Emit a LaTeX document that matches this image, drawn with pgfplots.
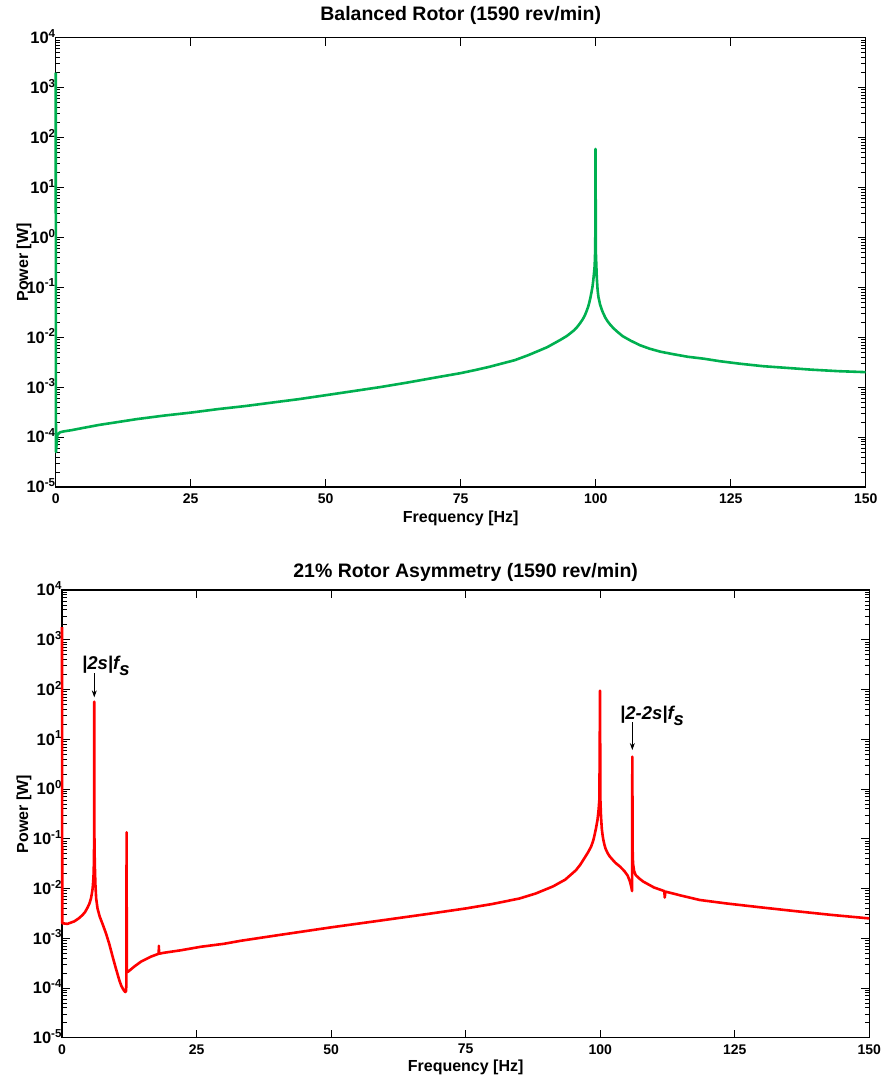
\documentclass[border=0pt]{standalone}
\usepackage{pgfplots}
\pgfplotsset{compat=1.18}
\usepackage{fontspec}
\setmainfont{Liberation Sans}
\usetikzlibrary{arrows.meta}
\definecolor{mygreen}{RGB}{0,176,80}

\pgfplotstableread{
f v
0 2000
0.05 5e-5
0.3 1.1e-4
0.8 1.25e-4
1.5 1.3e-4
3 1.38e-4
5 1.52e-4
8 1.75e-4
11.5 2.0e-4
15 2.29e-4
20 2.69e-4
25 3.09e-4
30 3.63e-4
35 4.17e-4
40 4.9e-4
45 5.75e-4
50 6.9e-4
55 8.3e-4
60 1.0e-3
65 1.23e-3
71.2 1.62e-3
75 1.91e-3
78 2.24e-3
80.4 2.57e-3
82.5 2.95e-3
85 3.47e-3
87.5 4.37e-3
89.7 5.5e-3
91 6.31e-3
92 7.24e-3
93.5 8.91e-3
94.6 1.05e-2
95.3 1.20e-2
96 1.38e-2
96.6 1.62e-2
97.1 1.91e-2
97.6 2.29e-2
98 2.75e-2
98.3 3.31e-2
98.6 4.07e-2
98.8 4.90e-2
99 6.03e-2
99.2 7.76e-2
99.4 0.102
99.55 0.138
99.7 0.200
99.8 0.263
99.85 0.355
99.92 0.631
99.97 59
100.03 0.501
100.08 0.355
100.2 0.158
100.35 0.0891
100.5 0.0646
100.8 0.0457
101.1 0.0363
101.4 0.0302
101.8 0.0245
102.2 0.0209
102.7 0.0178
103.3 0.0151
104 0.0129
105 0.0105
106.5 0.00851
108.2 0.00692
110 0.00589
112 0.00513
114.4 0.00457
117 0.00407
120 0.00372
123 0.00331
126.7 0.00295
131 0.00263
135 0.00245
140 0.00224
145 0.00209
150 0.00200
}\balanced

\pgfplotstableread{
f v
0 1800
0.05 2.0e-3
0.18 2.0e-3
1.0 1.95e-3
2.28 2.19e-3
3.1 2.51e-3
3.83 2.95e-3
4.3 3.39e-3
4.76 4.17e-3
5.1 5.01e-3
5.38 6.31e-3
5.55 7.94e-3
5.69 0.0100
5.8 0.0141
5.88 0.0200
5.94 0.0398
5.98 0.126
6.0 57
6.02 0.126
6.06 0.050
6.12 0.0251
6.2 0.0126
6.35 6.31e-3
6.6 3.98e-3
7.0 2.75e-3
7.6 1.86e-3
8.17 1.26e-3
8.8 7.59e-4
9.41 4.27e-4
10.0 2.51e-4
10.64 1.45e-4
11.0 1.12e-4
11.45 9.12e-5
11.75 8.32e-5
11.9 8.71e-5
11.97 1.26e-4
12.0 0.135
12.04 2.09e-4
12.3 2.14e-4
13.4 2.69e-4
14.67 3.39e-4
16.5 4.27e-4
17.97 4.9e-4
18.0 7.08e-4
18.03 4.9e-4
19.0 5.13e-4
22.1 5.75e-4
25.8 6.76e-4
30.1 7.76e-4
33.2 8.91e-4
40 1.15e-3
50 1.66e-3
60 2.34e-3
68 3.09e-3
75 3.98e-3
80 4.90e-3
85 6.31e-3
88 7.94e-3
91.2 0.0110
93.5 0.0151
95.5 0.0234
96.3 0.0302
97 0.0398
97.7 0.0525
98.3 0.0692
98.7 0.0912
99.0 0.125
99.25 0.17
99.5 0.240
99.7 0.38
99.85 0.631
99.97 95
100.03 0.631
100.15 0.282
100.3 0.158
100.45 0.117
100.6 0.0933
100.8 0.075
101.0 0.0631
101.4 0.051
101.8 0.0437
102.8 0.0331
103.7 0.0275
104.5 0.0224
105.1 0.0182
105.5 0.0141
105.8 0.0105
105.92 8.9e-3
105.97 4.47
106.02 0.063
106.1 0.0316
106.3 0.0224
106.6 0.0186
107.3 0.0158
108 0.0138
110 0.0105
111.9 8.9e-3
112.0 6.6e-3
112.1 8.7e-3
115 7.24e-3
118.5 5.89e-3
123.5 5.01e-3
130 4.17e-3
135.9 3.55e-3
143 2.95e-3
150 2.51e-3
}\asym

\pgfplotsset{
 every axis/.append style={
  scale only axis, xmin=0, xmax=150, ymin=1e-5, ymax=1e4,
  clip=false,
  axis line style={line width=1.3pt},
  every tick/.style={black, line width=0.9pt},
  major tick length=8pt, minor tick length=4.5pt,
  tick align=inside, xtick pos=both, ytick pos=both,
  xtick={0,25,50,75,100,125,150},
  xticklabels={0,25,50,75,100,125,150},
  ytick={1e-5,1e-4,1e-3,1e-2,1e-1,1e0,1e1,1e2,1e3,1e4},
  yticklabels={10\textsuperscript{-5},10\textsuperscript{-4},10\textsuperscript{-3},10\textsuperscript{-2},10\textsuperscript{-1},10\textsuperscript{0},10\textsuperscript{1},10\textsuperscript{2},10\textsuperscript{3},10\textsuperscript{4}},
  minor ytick={2e-5,3e-5,4e-5,5e-5,6e-5,7e-5,8e-5,9e-5,
   2e-4,3e-4,4e-4,5e-4,6e-4,7e-4,8e-4,9e-4,
   2e-3,3e-3,4e-3,5e-3,6e-3,7e-3,8e-3,9e-3,
   2e-2,3e-2,4e-2,5e-2,6e-2,7e-2,8e-2,9e-2,
   2e-1,3e-1,4e-1,5e-1,6e-1,7e-1,8e-1,9e-1,
   2,3,4,5,6,7,8,9,20,30,40,50,60,70,80,90,
   200,300,400,500,600,700,800,900,2000,3000,4000,5000,6000,7000,8000,9000},
  xticklabel style={font=\fontsize{14}{14}\selectfont\bfseries, yshift=-3pt},
  yticklabel style={font=\fontsize{16.5}{16.5}\selectfont\bfseries, anchor=base east, xshift=3.5pt, yshift=-5.9pt},
  title style={font=\fontsize{19.5}{19.5}\selectfont\bfseries, at={(0.5,1)}, anchor=base},
  xlabel style={font=\fontsize{16}{16}\selectfont\bfseries, at={(0.5,0)}, anchor=base, yshift=-35pt},
  ylabel style={font=\fontsize{16}{16}\selectfont\bfseries, at={(0,0.5)}, anchor=base},
  xlabel={Frequency [Hz]}, ylabel={Power [W]},
 }
}

\begin{document}
\begin{tikzpicture}
\begin{semilogyaxis}[at={(55.7pt,-37.7pt)}, anchor=north west,
  width=810pt, height=449.3pt,
  title={Balanced Rotor (1590 rev/min)}, title style={yshift=11pt},
  ylabel style={yshift=27.7pt}]
\addplot[mygreen, line width=2.6pt, line join=round] table[x=f,y=v] {\balanced};
\end{semilogyaxis}

\begin{semilogyaxis}[at={(62pt,-590pt)}, anchor=north west,
  width=807.3pt, height=447.8pt,
  title={21\% Rotor Asymmetry (1590 rev/min)}, title style={yshift=7pt},
  ylabel style={yshift=34pt}, xlabel style={yshift=1.5pt}]
\addplot[red, line width=2.6pt, line join=round] table[x=f,y=v] {\asym};
\node[anchor=base west, font=\fontsize{18.5}{18.5}\selectfont\bfseries\itshape, inner sep=0pt] at (axis cs:3.72,258) {|2s|f\raisebox{-6pt}{s}};
\draw[line width=0.8pt, -{Stealth[length=7pt,width=5pt]}] (axis cs:6,214) -- (axis cs:6,69.7);
\node[anchor=base west, font=\fontsize{18.5}{18.5}\selectfont\bfseries\itshape, inner sep=0pt] at (axis cs:103.68,25.1) {|2-2s|f\raisebox{-6pt}{s}};
\draw[line width=0.8pt, -{Stealth[length=7pt,width=5pt]}] (axis cs:105.97,22.2) -- (axis cs:105.97,6.08);
\end{semilogyaxis}
\pgfresetboundingbox
\path[use as bounding box] (0pt,0pt) rectangle (881pt,-1077pt);
\end{tikzpicture}
\end{document}
